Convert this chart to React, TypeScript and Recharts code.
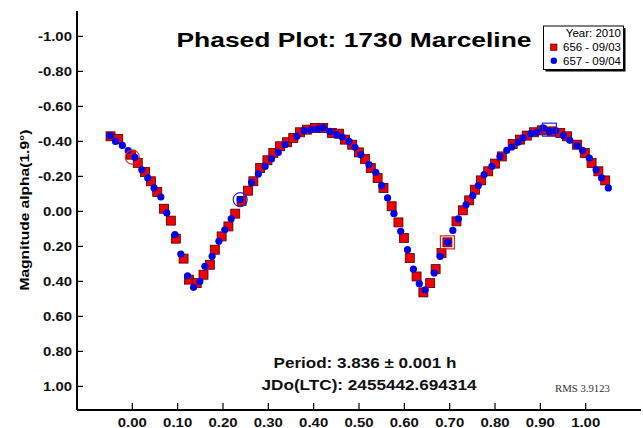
import { ScatterChart, Scatter, XAxis, YAxis } from "recharts";

const FONT = "'Liberation Sans', Arial, Helvetica, sans-serif";

// session 656 - 09/03 (red squares)
const redPhase = [
  -0.048, -0.031, -0.003, 0.012, 0.028, 0.041, 0.055, 0.07, 0.085, 0.096, 0.113, 0.125,
  0.142, 0.157, 0.171, 0.182, 0.197, 0.212, 0.227, 0.241, 0.255, 0.267, 0.282, 0.298,
  0.311, 0.326, 0.341, 0.355, 0.37, 0.385, 0.403, 0.421, 0.44, 0.456, 0.469, 0.485, 0.5,
  0.513, 0.526, 0.541, 0.554, 0.572, 0.587, 0.599, 0.612, 0.627, 0.642, 0.657, 0.669,
  0.682, 0.695, 0.715, 0.729, 0.743, 0.756, 0.769, 0.785, 0.8, 0.815, 0.839, 0.855, 0.87,
  0.886, 0.903, 0.925, 0.944, 0.959, 0.981, 0.998, 1.013, 1.028, 1.043,
];
const redMag = [
  -0.429, -0.414, -0.324, -0.277, -0.225, -0.172, -0.111, -0.015, 0.053, 0.156, 0.27, 0.39,
  0.41, 0.362, 0.305, 0.219, 0.143, 0.086, 0.013, -0.06, -0.118, -0.172, -0.248, -0.292,
  -0.334, -0.372, -0.395, -0.42, -0.452, -0.467, -0.477, -0.477, -0.448, -0.444, -0.41,
  -0.381, -0.337, -0.3, -0.248, -0.191, -0.134, -0.029, 0.063, 0.152, 0.267, 0.372, 0.463,
  0.41, 0.33, 0.238, 0.177, 0.057, -0.006, -0.063, -0.124, -0.177, -0.229, -0.273, -0.314,
  -0.385, -0.41, -0.433, -0.452, -0.463, -0.457, -0.448, -0.429, -0.381, -0.334, -0.277,
  -0.229, -0.177,
];

// session 657 - 09/04 (blue circles)
const bluePhase = [
  -0.049, -0.037, -0.022, -0.009, 0.006, 0.021, 0.034, 0.048, 0.063, 0.076, 0.094, 0.107,
  0.122, 0.135, 0.149, 0.16, 0.176, 0.191, 0.204, 0.218, 0.238, 0.263, 0.278, 0.293, 0.307,
  0.322, 0.337, 0.363, 0.379, 0.394, 0.409, 0.421, 0.436, 0.451, 0.463, 0.478, 0.491, 0.504,
  0.522, 0.537, 0.55, 0.563, 0.577, 0.592, 0.607, 0.62, 0.633, 0.646, 0.666, 0.679, 0.696,
  0.707, 0.719, 0.736, 0.751, 0.763, 0.776, 0.793, 0.811, 0.826, 0.837, 0.851, 0.862, 0.879,
  0.892, 0.906, 0.92, 0.934, 0.951, 0.965, 0.981, 0.993, 1.008, 1.023, 1.035, 1.05,
];
const blueMag = [
  -0.433, -0.4, -0.377, -0.347, -0.309, -0.238, -0.191, -0.134, -0.082, 0.009, 0.133, 0.244,
  0.368, 0.434, 0.4, 0.314, 0.257, 0.171, 0.105, 0.042, -0.067, -0.166, -0.214, -0.257, -0.3,
  -0.337, -0.381, -0.429, -0.461, -0.467, -0.471, -0.477, -0.457, -0.439, -0.425, -0.4,
  -0.366, -0.324, -0.267, -0.223, -0.147, -0.077, 0.013, 0.114, 0.219, 0.33, 0.413, 0.448,
  0.352, 0.257, 0.177, 0.109, 0.043, -0.038, -0.09, -0.147, -0.21, -0.257, -0.314, -0.349,
  -0.368, -0.395, -0.42, -0.444, -0.452, -0.477, -0.457, -0.461, -0.433, -0.406, -0.376,
  -0.349, -0.305, -0.238, -0.191, -0.134,
];

// first point of each session, marked with an open symbol
const startRedCircle = [{ phase: 0.0, mag: -0.31 }];
const startBlueCircle = [{ phase: 0.238, mag: -0.067 }];
const startRedSquare = [{ phase: 0.695, mag: 0.177 }];
const startBlueSquare = [{ phase: 0.92, mag: -0.467 }];

const xTicks = [0, 0.1, 0.2, 0.3, 0.4, 0.5, 0.6, 0.7, 0.8, 0.9, 1.0];
const yTicks = [-1, -0.8, -0.6, -0.4, -0.2, 0, 0.2, 0.4, 0.6, 0.8, 1.0];

const zip = (xs: number[], ys: number[]) => xs.map((phase, i) => ({ phase, mag: ys[i] }));
const redData = zip(redPhase, redMag);
const blueData = zip(bluePhase, blueMag);

const fmt = (v: number) => v.toFixed(2);
const tickText = { fontFamily: FONT, fontWeight: 700, fontSize: 13, fill: "#111" };

const LeftTick = ({ x, y, payload }: any) => (
  <g>
    <line x1={x + 5} x2={x + 11} y1={y} y2={y} stroke="#000" strokeWidth={1.2} />
    <text transform={`translate(${x},${y + 4.5}) scale(1.15,1)`} textAnchor="end" {...tickText}>
      {fmt(payload.value)}
    </text>
  </g>
);

const BottomTick = ({ x, y, payload }: any) => (
  <g>
    <line x1={x} x2={x} y1={y - 4} y2={y - 11} stroke="#000" strokeWidth={1.2} />
    <text transform={`translate(${x},${y + 12.5}) scale(1.15,1)`} textAnchor="middle" {...tickText}>
      {fmt(payload.value)}
    </text>
  </g>
);

const TopTick = ({ x, y }: any) => (
  <line x1={x} x2={x} y1={y} y2={y + 7} stroke="#000" strokeWidth={1.2} />
);

const RightTick = ({ x, y }: any) => (
  <line x1={x} x2={x - 6} y1={y} y2={y} stroke="#000" strokeWidth={1.2} />
);

const RedSquare = ({ cx, cy }: any) => (
  <rect x={cx - 4.5} y={cy - 4.5} width={9} height={9} fill="#f20000" stroke="#4a0000" strokeWidth={0.8} />
);
const BlueDot = ({ cx, cy }: any) => <circle cx={cx} cy={cy} r={3.6} fill="#0000e6" />;
const OpenCircle = (color: string) => ({ cx, cy }: any) => (
  <circle cx={cx} cy={cy} r={7} fill="none" stroke={color} strokeWidth={1.2} />
);
const OpenSquare = (color: string) => ({ cx, cy }: any) => (
  <rect x={cx - 7} y={cy - 6.5} width={14} height={13} fill="none" stroke={color} strokeWidth={1.2} />
);
const Nothing = () => <g />;

const axisLine = { stroke: "#000", strokeWidth: 2 };

export default function App() {
  return (
    <div style={{ position: "absolute", left: 0, top: 0, width: 643, height: 428, background: "#fff" }}>
      <ScatterChart width={643} height={428} margin={{ top: 11, right: 2, bottom: 0, left: 0 }}>
        <XAxis
          dataKey="phase"
          type="number"
          domain={[-0.122, 1.122]}
          ticks={xTicks}
          interval={0}
          allowDataOverflow
          height={18}
          tickSize={0}
          tickMargin={4}
          axisLine={axisLine}
          tick={<BottomTick />}
        />
        <XAxis
          xAxisId="top"
          orientation="top"
          dataKey="phase"
          type="number"
          domain={[-0.122, 1.122]}
          ticks={xTicks}
          interval={0}
          allowDataOverflow
          height={0}
          tickSize={0}
          tickMargin={0}
          axisLine={axisLine}
          tick={<TopTick />}
        />
        <YAxis
          dataKey="mag"
          type="number"
          domain={[-1.145, 1.135]}
          ticks={yTicks}
          interval={0}
          reversed
          allowDataOverflow
          width={77}
          tickSize={0}
          tickMargin={5}
          axisLine={axisLine}
          tick={<LeftTick />}
        />
        <YAxis
          yAxisId="right"
          orientation="right"
          dataKey="mag"
          type="number"
          domain={[-1.145, 1.135]}
          ticks={yTicks}
          interval={0}
          reversed
          allowDataOverflow
          width={0}
          tickSize={0}
          tickMargin={0}
          axisLine={axisLine}
          tick={<RightTick />}
        />
        <Scatter data={redData} xAxisId="top" yAxisId="right" shape={<Nothing />} isAnimationActive={false} />
        <Scatter name="656 - 09/03" data={redData} shape={<RedSquare />} isAnimationActive={false} />
        <Scatter name="657 - 09/04" data={blueData} shape={<BlueDot />} isAnimationActive={false} />
        <Scatter data={startRedCircle} shape={OpenCircle("#e02424")} isAnimationActive={false} />
        <Scatter data={startBlueCircle} shape={OpenCircle("#2424e0")} isAnimationActive={false} />
        <Scatter data={startRedSquare} shape={OpenSquare("#e02424")} isAnimationActive={false} />
        <Scatter data={startBlueSquare} shape={OpenSquare("#2424e0")} isAnimationActive={false} />
      </ScatterChart>

      <svg
        width={643}
        height={428}
        style={{ position: "absolute", left: 0, top: 0, pointerEvents: "none" }}
        fontFamily={FONT}
      >
        <text x={354} y={47} textAnchor="middle" fontSize={21} fontWeight={700} fill="#000"
          textLength={355} lengthAdjust="spacingAndGlyphs">
          Phased Plot: 1730 Marceline
        </text>
        <text transform="translate(29,210) rotate(-90)" textAnchor="middle" fontSize={13} fontWeight={700}
          fill="#000" textLength={161} lengthAdjust="spacingAndGlyphs">
          Magnitude alpha(1.9°)
        </text>
        <text x={365} y={368} textAnchor="middle" fontSize={14} fontWeight={700} fill="#111"
          textLength={183} lengthAdjust="spacingAndGlyphs">
          Period: 3.836 ± 0.001 h
        </text>
        <text x={369} y={390} textAnchor="middle" fontSize={14} fontWeight={700} fill="#111"
          textLength={215} lengthAdjust="spacingAndGlyphs">
          JDo(LTC): 2455442.694314
        </text>
        <text x={555} y={391.5} fontSize={10} fontFamily="'Liberation Serif', 'Times New Roman', serif"
          fill="#333" textLength={55} lengthAdjust="spacingAndGlyphs">
          RMS 3.9123
        </text>

        {/* legend box */}
        <rect x={545.5} y={28} width={80} height={43.5} fill="#000" />
        <rect x={543.5} y={26} width={80} height={43.5} fill="#fff" stroke="#000" strokeWidth={1} />
        <text x={621} y={36.5} textAnchor="end" fontSize={11.5} fill="#000">Year: 2010</text>
        <rect x={550.5} y={44} width={6.5} height={6.5} fill="#f20000" stroke="#4a0000" strokeWidth={0.6} />
        <text x={621} y={50.5} textAnchor="end" fontSize={11.5} fill="#000"
          textLength={58} lengthAdjust="spacingAndGlyphs">656 - 09/03</text>
        <circle cx={553.8} cy={60.8} r={3.2} fill="#0000e6" />
        <text x={621} y={64.5} textAnchor="end" fontSize={11.5} fill="#000"
          textLength={58} lengthAdjust="spacingAndGlyphs">657 - 09/04</text>
      </svg>
    </div>
  );
}
